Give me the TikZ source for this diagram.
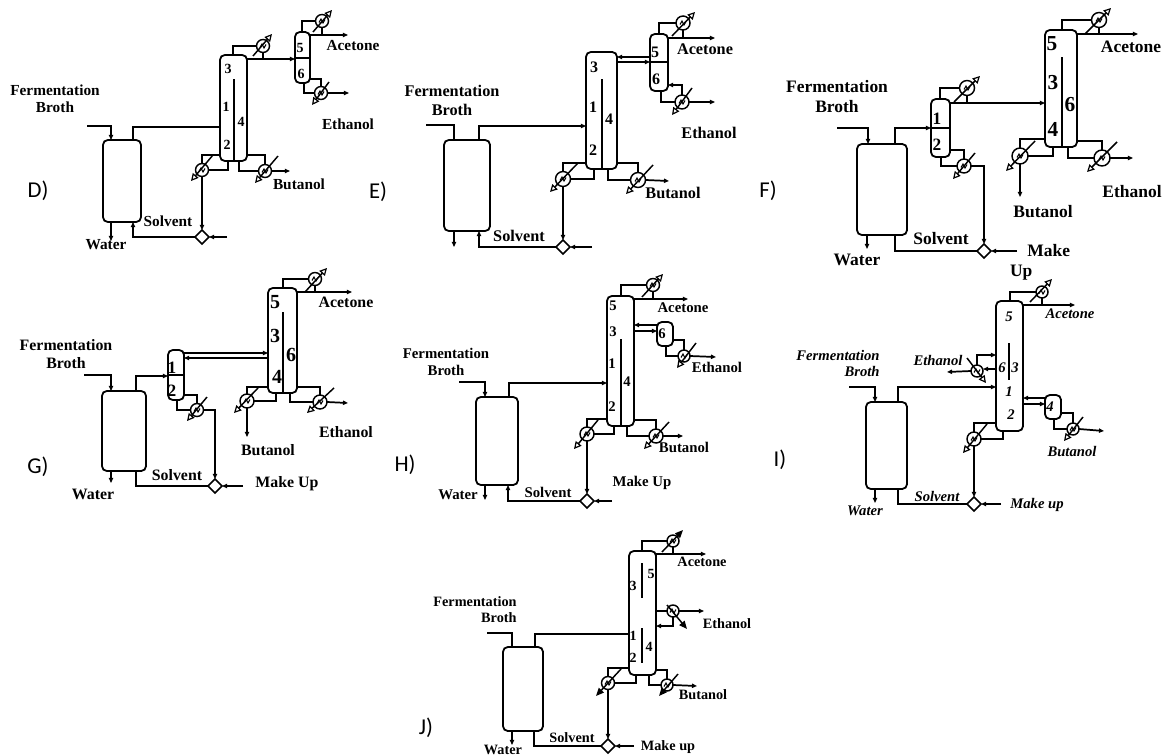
\documentclass[tikz,border=0pt]{standalone}
\usepackage{fontspec}
\setmainfont{Liberation Serif}
\newfontfamily\panelfont{Carlito}
\usetikzlibrary{arrows.meta,shapes.geometric}
\tikzset{
  pipe/.style={line width=1.3pt,line join=miter},
  pipea/.style={pipe,-{Triangle[length=3.8pt,width=3.2pt]}},
  vess/.style={draw,line width=1.35pt,rounded corners=3.6pt,inner sep=0,outer sep=0,fill=white},
  hxc/.style={draw,circle,line width=1.1pt,inner sep=0,outer sep=0,fill=white},
  hxz/.style={line width=.8pt},
  utilo/.style={line width=1.1pt,-{Triangle[open,length=5.5pt,width=5.5pt,line width=.9pt]}},
  utilf/.style={line width=1.1pt,-{Triangle[length=6pt,width=5pt]}},
  mix/.style={draw,diamond,line width=1.2pt,inner sep=0,outer sep=0,minimum size=10.5pt,fill=white},
  lab/.style n args={2}{font=\fontsize{#1}{#2}\selectfont\bfseries,inner sep=0,align=center},
  labi/.style n args={2}{font=\fontsize{#1}{#2}\selectfont\bfseries\itshape,inner sep=0,align=right},
  num/.style={font=\fontsize{#1}{#1}\selectfont\bfseries,inner sep=0},
  numi/.style={font=\fontsize{#1}{#1}\selectfont\bfseries\itshape,inner sep=0},
  panel/.style={font=\fontsize{17}{18}\selectfont\panelfont,inner sep=0},
}
% name x1 y1 x2 y2
\newcommand\vsl[5]{\node[vess,minimum width={(#4-#2)*0.75pt},minimum height={(#5-#3)*0.75pt}] (#1) at ({(#2+#4)/2},{(#3+#5)/2}) {};}
% name x y diameter(px) x1 y1 x2 y2 tipstyle
\newcommand\hx[9]{%
  \node[hxc,minimum size={#4*0.75pt}] (#1) at (#2,#3) {};
  \draw[hxz] ([shift={(-3,1.5)}]#1.center) -- ([shift={(-1,-2)}]#1.center) -- ([shift={(1,2)}]#1.center) -- ([shift={(3,-1.5)}]#1.center);
  \draw[#9] (#5,#6) -- (#7,#8);}
\begin{document}
\begin{tikzpicture}[x=0.75pt,y=-0.75pt]
\useasboundingbox[fill=white] (0,0) rectangle (1163,756);

% ---------- Panel D
\vsl{Dv}{103}{140}{141}{222}
\vsl{Dc}{220}{55}{247}{161}
\vsl{Ds}{295}{32}{310}{83}
\hx{Dh1}{263}{46}{13}{253}{56}{272}{34}{utilo}
\hx{Dh2}{322}{21}{13}{313}{32}{332}{10}{utilo}
\hx{Dh3}{321}{93}{13}{329}{82}{312}{105}{utilo}
\hx{Dh4}{202}{170}{13}{213}{155}{191}{181}{utilo}
\hx{Dh5}{265}{171}{13}{278}{156}{255}{183}{utilo}
\node[mix] (Dm) at (202,237) {};
\coordinate (Df) at (87,126);
\coordinate (Dw) at (111,241);
\coordinate (Da) at (348,35);
\coordinate (De) at (349,93);
\coordinate (Db) at (290,171);
\coordinate (Dmu) at (227,237);
\draw[pipea] (Df) -| (Dv.north -| 111,0);
\draw[pipe] (Dv.north -| 133,0) |- (Dc.west |- 0,127);
\draw[pipe] (Dc.north -| 233,0) |- (Dh1.west);
\draw[pipe] (Dh1.south) -- (Dh1.south |- 0,59);
\draw[pipea] (Dc.east |- 0,59) -- (Ds.west |- 0,59);
\draw[pipe] (Ds.north -| 302,0) |- (Dh2.west);
\draw[pipe] (Dh2.south) -- (Dh2.south |- 0,35);
\draw[pipea] (Ds.east |- 0,35) -- (Da);
\draw[pipe] (Ds.south -| 304,0) |- (Dh3.west);
\draw[pipe] (Ds.east |- 0,79) -| (Dh3.north);
\draw[pipea] (Dh3.east) -- (De);
\draw[pipe] (Dc.west |- 0,155) -| (Dh4.north);
\draw[pipe] (Dc.south -| 228,0) |- (Dh4.east);
\draw[pipe] (Dc.east |- 0,155) -| (Dh5.north);
\draw[pipe] (Dc.south -| 239,0) |- (Dh5.west);
\draw[pipea] (Dh5.east) -- (Db);
\draw[pipea] (Dh4.south) -- (Dm.north);
\draw[pipea] (Dmu) -- (Dm.east);
\draw[pipea] (Dm.west) -| (Dv.south -| 133,0);
\draw[pipea] (Dv.south -| 111,0) -- (Dw);
\draw[pipe] (Ds.west |- 0,58) -- (Ds.east |- 0,58);
\draw[pipe] (Dc.south -| 234,0) -- (234,79);
\node[lab={11.5}{12.75}] (DtF) at (55,98.5) {Fermentation\\Broth};
\node[lab={11.5}{12.75}] (DtA) at (353,46) {Acetone};
\node[lab={11.5}{12.75}] (DtE) at (348,124) {Ethanol};
\node[lab={11.5}{12.75}] (DtB) at (299,184) {Butanol};
\node[lab={11.5}{12.75}] (DtS) at (168,221) {Solvent};
\node[lab={11.5}{12.75}] (DtW) at (106,245) {Water};
\foreach \n/\x/\y in {3/228/69,1/226/107,4/241/122,2/227/145,5/300/48,6/301/74}
  \node[num=10.5] (Dn\n) at (\x,\y) {\n};
\node[panel] (DP) at (38,191) {D)};

% ---------- Panel E
\vsl{Ev}{444}{140}{490}{231}
\vsl{Ec}{586}{52}{617}{169}
\vsl{Es}{650}{34}{668}{91}
\hx{Eh1}{683}{23}{14}{672}{36}{695}{12}{utilo}
\hx{Eh2}{682}{102}{14}{692}{88}{672}{115}{utilo}
\hx{Eh3}{563}{179}{15}{578}{163}{550}{192}{utilo}
\hx{Eh4}{638}{180}{15}{653}{165}{626}{194}{utilo}
\node[mix] (Em) at (563,247) {};
\coordinate (Ef) at (426,125);
\coordinate (Ew) at (454,247);
\coordinate (Ea) at (715,38);
\coordinate (Ee) at (715,102);
\coordinate (Eb) at (669,181);
\coordinate (Emu) at (592,247);
\draw[pipe] (Ef) -| (Ev.north -| 454,0);
\draw[pipea] (Ev.north -| 479,0) |- (Ec.west |- 0,126);
\draw[pipea] (Es.west |- 0,57) -- (Ec.east |- 0,57);
\draw[pipea] (Ec.east |- 0,62) -- (Es.west |- 0,62);
\draw[pipe] (Es.north -| 659,0) |- (Eh1.west);
\draw[pipe] (Eh1.south) -- (Eh1.south |- 0,38);
\draw[pipea] (Es.east |- 0,38) -- (Ea);
\draw[pipe] (Es.south -| 661,0) |- (Eh2.west);
\draw[pipea] (Eh2.north) |- (Es.east |- 0,85);
\draw[pipea] (Eh2.east) -- (Ee);
\draw[pipe] (Ec.west |- 0,163) -| (Eh3.north);
\draw[pipe] (Ec.south -| 594,0) |- (Eh3.east);
\draw[pipe] (Ec.east |- 0,163) -| (Eh4.north);
\draw[pipe] (Ec.south -| 608,0) |- (Eh4.west);
\draw[pipea] (Eh4.east) -- (Eb);
\draw[pipea] (Eh3.south) -- (Em.north);
\draw[pipea] (Emu) -- (Em.east);
\draw[pipea] (Em.west) -| (Ev.south -| 479,0);
\draw[pipea] (Ev.south -| 454,0) -- (Ew);
\draw[pipe] (Es.west |- 0,62) -- (Es.east |- 0,62);
\draw[pipe] (Ec.south -| 602,0) -- (602,79);
\node[lab={12.2}{14.25}] (EtF) at (452,100.5) {Fermentation\\Broth};
\node[lab={12.2}{14.25}] (EtA) at (705,49) {Acetone};
\node[lab={12.2}{14.25}] (EtE) at (709,133) {Ethanol};
\node[lab={12.2}{14.25}] (EtB) at (673,193) {Butanol};
\node[lab={12.2}{14.25}] (EtS) at (519,236) {Solvent};
\foreach \n/\x/\y in {3/594/67,1/593/107,4/609/119,2/593/150,5/655/52,6/656/79}
  \node[num=12] (En\n) at (\x,\y) {\n};
\node[panel] (EP) at (378,192) {E)};

% ---------- Panel F
\vsl{Fv}{857}{144}{907}{235}
\vsl{Fs}{931}{99}{950}{157}
\vsl{Fc}{1045}{30}{1077}{147}
\hx{Fh1}{967}{88}{15}{954}{102}{980}{76}{utilo}
\hx{Fh2}{964}{166}{14}{975}{153}{953}{179}{utilo}
\hx{Fh3}{1099}{20}{15}{1085}{34}{1111}{8}{utilo}
\hx{Fh4}{1020}{156}{16}{1035}{141}{1006}{171}{utilo}
\hx{Fh5}{1102}{158}{16}{1117}{142}{1087}{172}{utilo}
\node[mix] (Fm) at (984,251) {};
\coordinate (Ff) at (837,128);
\coordinate (Fw) at (867,249);
\coordinate (Fa) at (1138,34);
\coordinate (Fe) at (1133,158);
\coordinate (Fb) at (1020,197);
\coordinate (Fmu) at (1017,251);
\draw[pipea] (Ff) -| (Fv.north -| 868,0);
\draw[pipea] (Fv.north -| 895,0) |- (Fs.west |- 0,128);
\draw[pipe] (Fs.north -| 940,0) |- (Fh1.west);
\draw[pipe] (Fh1.south) -- (Fh1.south |- 0,103);
\draw[pipea] (Fs.east |- 0,103) -- (Fc.west |- 0,103);
\draw[pipe] (Fs.east |- 0,150) -| (Fh2.north);
\draw[pipe] (Fs.south -| 941,0) |- (Fh2.west);
\draw[pipea] (Fh2.east) -| (Fm.north);
\draw[pipea] (Fmu) -- (Fm.east);
\draw[pipe] (Fm.west) -| (Fv.south -| 895,0);
\draw[pipea] (Fv.south -| 867,0) -- (Fw);
\draw[pipe] (Fc.north -| 1062,0) |- (Fh3.west);
\draw[pipe] (Fh3.south) -- (Fh3.south |- 0,34);
\draw[pipea] (Fc.east |- 0,34) -- (Fa);
\draw[pipe] (Fc.west |- 0,139) -| (Fh4.north);
\draw[pipe] (Fc.south -| 1053,0) |- (Fh4.east);
\draw[pipea] (Fh4.south) -- (Fb);
\draw[pipe] (Fc.east |- 0,141) -| (Fh5.north);
\draw[pipe] (Fc.south -| 1068,0) |- (Fh5.west);
\draw[pipea] (Fh5.east) -- (Fe);
\draw[pipe] (Fs.west |- 0,128) -- (Fs.east |- 0,128);
\draw[pipe] (Fc.south -| 1062,0) -- (1062,57);
\node[lab={13.1}{15}] (FtF) at (837,97) {Fermentation\\Broth};
\node[lab={13.1}{15}] (FtA) at (1131,47) {Acetone};
\node[lab={13.1}{15}] (FtE) at (1132,192) {Ethanol};
\node[lab={13.1}{15}] (FtB) at (1043,212) {Butanol};
\node[lab={13.1}{15}] (FtS) at (941,239) {Solvent};
\node[lab={13.1}{15}] (FtW) at (857,260) {Water};
\node[lab={13.1}{15},align=left] (FtM) at (1040,262) {\hspace*{13pt}Make\\Up};
\foreach \n/\x/\y/\s in {1/937/119/13,2/937/145/13,5/1052/44/16,3/1053/83/16,6/1070/105/16,4/1053/129/16}
  \node[num=\s] (Fn\n) at (\x,\y) {\n};
\node[panel] (FP) at (768,191) {F)};

% ---------- Panel G
\vsl{Gv}{102}{391}{146}{471}
\vsl{Gs}{168}{350}{184}{400}
\vsl{Gc}{268}{288}{297}{393}
\hx{Gh1}{197}{410}{13}{207}{397}{187}{421}{utilo}
\hx{Gh2}{315}{279}{13}{305}{292}{327}{268}{utilo}
\hx{Gh3}{247}{401}{14}{258}{388}{234}{413}{utilo}
\hx{Gh4}{320}{402}{14}{334}{388}{307}{413}{utilo}
\node[mix] (Gm) at (215,486) {};
\coordinate (Gf) at (84,375);
\coordinate (Gw) at (111,483);
\coordinate (Ga) at (352,292);
\coordinate (Ge) at (348,403);
\coordinate (Gb) at (247,437);
\coordinate (Gmu) at (243,486);
\draw[pipea] (Gf) -| (Gv.north -| 111,0);
\draw[pipea] (Gv.north -| 136,0) |- (Gs.west |- 0,376);
\draw[pipea] (Gs.east |- 0,353) -- (Gc.west |- 0,353);
\draw[pipea] (Gc.west |- 0,358) -- (Gs.east |- 0,358);
\draw[pipe] (Gs.east |- 0,395) -| (Gh1.north);
\draw[pipe] (Gs.south -| 177,0) |- (Gh1.west);
\draw[pipea] (Gh1.east) -| (Gm.north);
\draw[pipea] (Gmu) -- (Gm.east);
\draw[pipe] (Gm.west) -| (Gv.south -| 136,0);
\draw[pipea] (Gv.south -| 111,0) -- (Gw);
\draw[pipe] (Gc.north -| 283,0) |- (Gh2.west);
\draw[pipe] (Gh2.south) -- (Gh2.south |- 0,292);
\draw[pipea] (Gc.east |- 0,292) -- (Ga);
\draw[pipe] (Gc.west |- 0,387) -| (Gh3.north);
\draw[pipe] (Gc.south -| 276,0) |- (Gh3.east);
\draw[pipea] (Gh3.south) -- (Gb);
\draw[pipe] (Gc.east |- 0,387) -| (Gh4.north);
\draw[pipe] (Gc.south -| 290,0) |- (Gh4.west);
\draw[pipea] (Gh4.east) -- (Ge);
\draw[pipe] (Gs.west |- 0,375) -- (Gs.east |- 0,375);
\draw[pipe] (Gc.south -| 283,0) -- (283,312);
\node[lab={11.9}{13}] (GtF) at (66,354) {Fermentation\\Broth};
\node[lab={11.9}{13}] (GtA) at (346,302) {Acetone};
\node[lab={11.9}{13}] (GtE) at (346,432) {Ethanol};
\node[lab={11.9}{13}] (GtB) at (268,450) {Butanol};
\node[lab={11.9}{13}] (GtS) at (177,475) {Solvent};
\node[lab={11.9}{13}] (GtW) at (93,494) {Water};
\node[lab={11.9}{13}] (GtM) at (287,484) {Make Up};
\foreach \n/\x/\y/\s in {1/172/368/13,2/172/391/13,5/275/302/15,3/275/336/15,6/291/355/15,4/277/377/15}
  \node[num=\s] (Gn\n) at (\x,\y) {\n};
\node[panel] (GP) at (38,467) {G)};

% ---------- Panel H
\vsl{Hv}{476}{397}{518}{485}
\vsl{Hc}{607}{296}{634}{426}
\vsl{Hs}{657}{322}{673}{346}
\hx{Hh1}{653}{285}{13}{642}{297}{663}{274}{utilo}
\hx{Hh2}{684}{356}{12}{696}{343}{677}{368}{utilo}
\hx{Hh3}{587}{434}{14}{598}{420}{574}{449}{utilo}
\hx{Hh4}{656}{436}{14}{669}{422}{644}{449}{utilo}
\node[mix] (Hm) at (587,501) {};
\coordinate (Hf) at (459,382);
\coordinate (Hw) at (485,500);
\coordinate (Ha) at (688,299);
\coordinate (He) at (716,357);
\coordinate (Hb) at (683,436);
\coordinate (Hmu) at (612,501);
\draw[pipea] (Hf) -| (Hv.north -| 485,0);
\draw[pipea] (Hv.north -| 509,0) |- (Hc.west |- 0,383);
\draw[pipe] (Hc.north -| 621,0) |- (Hh1.west);
\draw[pipe] (Hh1.south) -- (Hh1.south |- 0,299);
\draw[pipea] (Hc.east |- 0,299) -- (Ha);
\draw[pipea] (Hs.west |- 0,325) -- (Hc.east |- 0,325);
\draw[pipea] (Hc.east |- 0,331) -- (Hs.west |- 0,331);
\draw[pipe] (Hs.south -| 666,0) |- (Hh2.west);
\draw[pipe] (Hs.east |- 0,340) -| (Hh2.north);
\draw[pipea] (Hh2.east) -- (He);
\draw[pipe] (Hc.west |- 0,419) -| (Hh3.north);
\draw[pipe] (Hc.south -| 614,0) |- (Hh3.east);
\draw[pipe] (Hc.east |- 0,420) -| (Hh4.north);
\draw[pipe] (Hc.south -| 627,0) |- (Hh4.west);
\draw[pipea] (Hh4.east) -- (Hb);
\draw[pipea] (Hh3.south) -- (Hm.north);
\draw[pipea] (Hmu) -- (Hm.east);
\draw[pipea] (Hm.west) -| (Hv.south -| 508,0);
\draw[pipea] (Hv.south -| 485,0) -- (Hw);
\draw[pipe] (Hc.south -| 621,0) -- (621,339);
\node[lab={11.1}{12.75}] (HtF) at (446,361.5) {Fermentation\\Broth};
\node[lab={11.1}{12.75}] (HtA) at (683,308) {Acetone};
\node[lab={11.1}{12.75}] (HtE) at (717,367) {Ethanol};
\node[lab={11.1}{12.75}] (HtB) at (684,447) {Butanol};
\node[lab={11.1}{12.75}] (HtS) at (548,492) {Solvent};
\node[lab={11.1}{12.75}] (HtW) at (458,495) {Water};
\node[lab={11.1}{12.75}] (HtM) at (642,483) {Make Up};
\foreach \n/\x/\y in {5/613/306,3/613/332,1/612/364,4/627/382,2/612/407,6/662/334}
  \node[num=11] (Hn\n) at (\x,\y) {\n};
\node[panel] (HP) at (405,465) {H)};

% ---------- Panel I
\vsl{Iv}{866}{402}{907}{489}
\vsl{Ic}{996}{301}{1023}{431}
\vsl{Is}{1045}{395}{1061}{419}
\hx{Ih1}{1042}{292}{12}{1030}{302}{1052}{279}{utilo}
\hx{Ih2}{977}{371}{12}{967}{358}{986}{383}{utilo}
\hx{Ih3}{1073}{429}{12}{1083}{417}{1064}{441}{utilo}
\hx{Ih4}{974}{439}{14}{987}{424}{963}{453}{utilo}
\node[mix] (Im) at (974,504) {};
\coordinate (If) at (849,387);
\coordinate (Iw) at (875,503);
\coordinate (Ia) at (1075,305);
\coordinate (Ie) at (947,372);
\coordinate (Ib) at (1104,431);
\coordinate (Imu) at (1001,504);
\draw[pipea] (If) -| (Iv.north -| 875,0);
\draw[pipea] (Iv.north -| 898,0) |- (Ic.west |- 0,387);
\draw[pipe] (Ic.north -| 1010,0) |- (Ih1.west);
\draw[pipe] (Ih1.south) -- (Ih1.south |- 0,305);
\draw[pipea] (Ic.east |- 0,305) -- (Ia);
\draw[pipea] (Ih2.north) |- (Ic.west |- 0,355);
\draw[pipea] (Ic.west |- 0,369) -- (Ih2.east |- 0,369);
\draw[pipea] (Ih2.west) -- (Ie);
\draw[pipea] (Is.west |- 0,398) -- (Ic.east |- 0,398);
\draw[pipea] (Ic.east |- 0,404) -- (Is.west |- 0,404);
\draw[pipe] (Is.south -| 1054,0) |- (Ih3.west);
\draw[pipe] (Is.east |- 0,413) -| (Ih3.north);
\draw[pipea] (Ih3.east) -- (Ib);
\draw[pipe] (Ic.west |- 0,423) -| (Ih4.north);
\draw[pipe] (Ic.south -| 1003,0) |- (Ih4.east);
\draw[pipea] (Ih4.south) -- (Im.north);
\draw[pipea] (Imu) -- (Im.east);
\draw[pipe] (Im.west) -| (Iv.south -| 898,0);
\draw[pipea] (Iv.south -| 875,0) -- (Iw);
\draw[pipe] (1009,343) -- (1009,380);
\node[labi={11}{12.4}] (ItF) at (838,363.5) {Fermentation\\Broth};
\node[labi={11}{12.4}] (ItA) at (1070,314) {Acetone};
\node[labi={11}{12.4}] (ItE) at (938,360) {Ethanol};
\node[labi={11}{12.4}] (ItB) at (1072,451) {Butanol};
\node[labi={11}{12.4}] (ItS) at (937,496) {Solvent};
\node[labi={11}{12.4}] (ItW) at (865,511) {Water};
\node[labi={11}{12.4}] (ItM) at (1037,505) {Make up};
\foreach \n/\x/\y in {5/1009/317,6/1002/368,3/1015/368,1/1009/392,2/1011/415,4/1050/407}
  \node[numi=11] (In\n) at (\x,\y) {\n};
\node[panel] (IP) at (780,460) {I)};

% ---------- Panel J
\vsl{Jv}{503}{647}{543}{731}
\vsl{Jc}{629}{551}{656}{675}
\hx{Jh1}{673}{541}{12}{662}{552}{683}{530}{utilf}
\hx{Jh2}{673}{611}{12}{667}{605}{687}{629}{utilf}
\hx{Jh3}{608}{683}{13}{621}{669}{596}{696}{utilf}
\hx{Jh4}{667}{685}{12}{678}{674}{659}{696}{utilf}
\node[mix] (Jm) at (608,746) {};
\coordinate (Jf) at (487,633);
\coordinate (Jw) at (512,745);
\coordinate (Ja) at (706,554);
\coordinate (Je) at (704,611);
\coordinate (Jb) at (697,686);
\coordinate (Jmu) at (634,746);
\draw[pipe] (Jf) -| (Jv.north -| 512,0);
\draw[pipe] (Jv.north -| 535,0) |- (Jc.west |- 0,634);
\draw[pipe] (Jc.north -| 642,0) |- (Jh1.west);
\draw[pipe] (Jh1.south) -- (Jh1.south |- 0,554);
\draw[pipea] (Jc.east |- 0,554) -- (Ja);
\draw[pipe] (Jc.east |- 0,611) -- (Jh2.west);
\draw[pipea] (Jh2.east) -- (Je);
\draw[pipea] (Jh2.south) |- (Jc.east |- 0,626);
\draw[pipe] (Jc.west |- 0,668) -| (Jh3.north);
\draw[pipe] (Jc.south -| 636,0) |- (Jh3.east);
\draw[pipe] (Jc.east |- 0,670) -| (Jh4.north);
\draw[pipe] (Jc.south -| 649,0) |- (Jh4.west);
\draw[pipea] (Jh4.east) -- (Jb);
\draw[pipea] (Jh3.south) -- (Jm.north);
\draw[pipea] (Jmu) -- (Jm.east);
\draw[pipe] (Jm.west) -| (Jv.south -| 534,0);
\draw[pipea] (Jv.south -| 512,0) -- (Jw);
\draw[pipe] (642,563) -- (642,598);
\draw[pipe] (642,628) -- (642,663);
\node[lab={10.7}{12},align=right] (JtF) at (475,610) {Fermentation\\Broth};
\node[lab={10.7}{12}] (JtA) at (702,562) {Acetone};
\node[lab={10.7}{12}] (JtE) at (727,624) {Ethanol};
\node[lab={10.7}{12}] (JtB) at (703,695) {Butanol};
\node[lab={10.7}{12}] (JtS) at (572,738) {Solvent};
\node[lab={10.7}{12}] (JtW) at (503,750) {Water};
\node[lab={10.7}{12}] (JtM) at (668,747) {Make up};
\foreach \n/\x/\y in {3/633/586,5/651/574,1/633/636,4/649/647,2/633/658}
  \node[num=10.5] (Jn\n) at (\x,\y) {\n};
\node[panel] (JP) at (426,728) {J)};
\end{tikzpicture}
\end{document}
